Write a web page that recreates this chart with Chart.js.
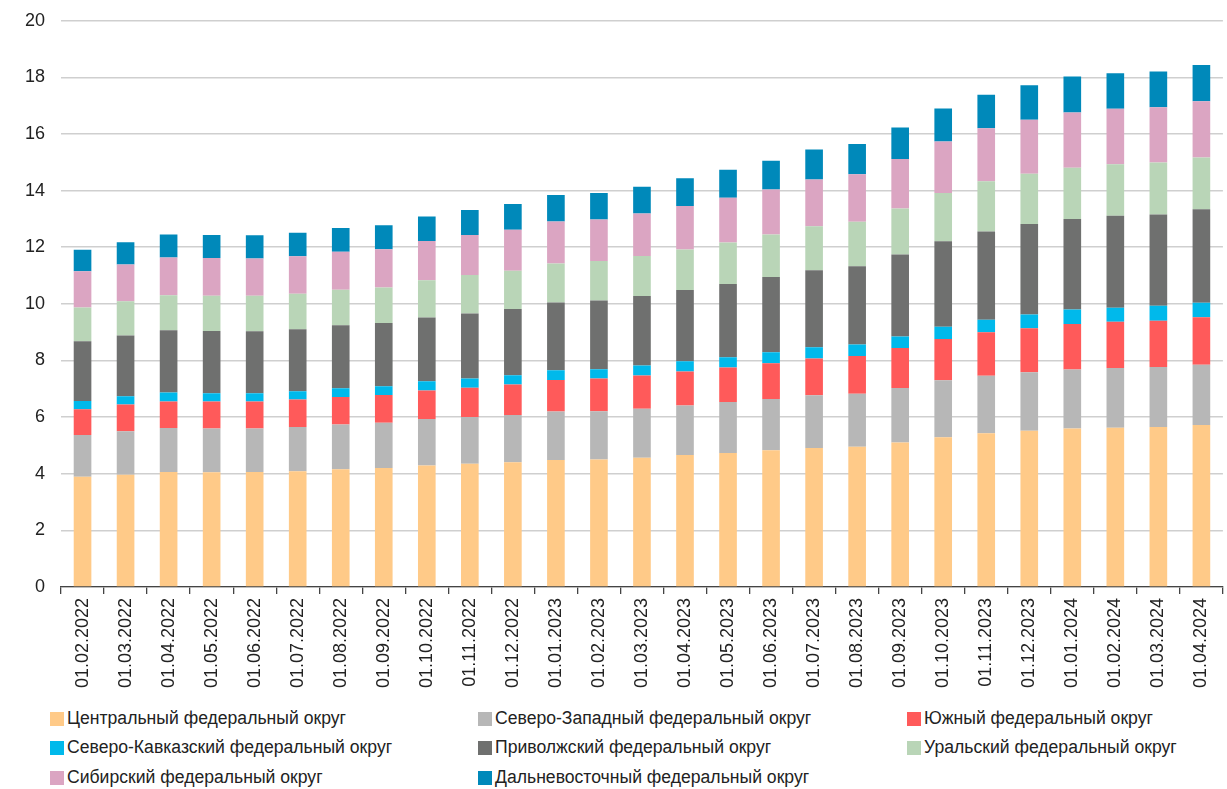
<!DOCTYPE html>
<html><head><meta charset="utf-8">
<script src="https://cdn.jsdelivr.net/npm/chart.js@4/dist/chart.umd.min.js"></script>
<style>
html,body{margin:0;padding:0;background:#fff;}
#wrap{position:relative;width:1227px;height:698px;margin-top:-6px;}
#legend{position:absolute;left:0;top:708px;width:1227px;font-family:"Liberation Sans",Arial,sans-serif;font-size:17.6px;color:#222;}
.li{position:absolute;display:flex;align-items:center;white-space:nowrap;}
.sw{width:14px;height:14px;margin-right:3px;}
</style></head><body>
<div id="wrap"><canvas id="c" width="1227" height="698"></canvas></div>
<div id="legend"></div>
<script>
const categories = ["01.02.2022","01.03.2022","01.04.2022","01.05.2022","01.06.2022","01.07.2022","01.08.2022","01.09.2022","01.10.2022","01.11.2022","01.12.2022","01.01.2023","01.02.2023","01.03.2023","01.04.2023","01.05.2023","01.06.2023","01.07.2023","01.08.2023","01.09.2023","01.10.2023","01.11.2023","01.12.2023","01.01.2024","01.02.2024","01.03.2024","01.04.2024"];
const central   = [3.89,3.96,4.06,4.05,4.06,4.09,4.16,4.20,4.29,4.35,4.40,4.48,4.50,4.56,4.66,4.73,4.83,4.91,4.95,5.10,5.29,5.43,5.52,5.60,5.62,5.65,5.72];
const northWest = [1.48,1.54,1.55,1.55,1.54,1.56,1.58,1.60,1.64,1.65,1.67,1.72,1.71,1.73,1.75,1.80,1.81,1.86,1.87,1.93,2.01,2.03,2.06,2.08,2.11,2.12,2.13];
const south     = [0.91,0.94,0.94,0.95,0.95,0.97,0.97,0.98,1.01,1.04,1.08,1.11,1.15,1.18,1.20,1.22,1.26,1.30,1.34,1.41,1.46,1.54,1.56,1.61,1.64,1.63,1.68];
const northCauc = [0.29,0.30,0.32,0.29,0.29,0.29,0.31,0.31,0.33,0.32,0.33,0.34,0.33,0.35,0.36,0.36,0.39,0.40,0.40,0.41,0.43,0.44,0.48,0.51,0.49,0.53,0.51];
const volga     = [2.11,2.14,2.20,2.20,2.19,2.19,2.22,2.23,2.25,2.30,2.34,2.40,2.43,2.46,2.52,2.59,2.66,2.72,2.77,2.89,3.02,3.12,3.20,3.20,3.25,3.23,3.30];
const ural      = [1.19,1.21,1.23,1.25,1.26,1.26,1.26,1.26,1.31,1.36,1.35,1.38,1.39,1.41,1.43,1.47,1.50,1.55,1.57,1.63,1.71,1.77,1.78,1.81,1.82,1.83,1.83];
const siberia   = [1.28,1.30,1.34,1.33,1.31,1.32,1.34,1.35,1.39,1.41,1.45,1.48,1.47,1.50,1.54,1.58,1.59,1.65,1.68,1.75,1.82,1.87,1.90,1.95,1.96,1.96,1.99];
const farEast   = [0.76,0.79,0.81,0.81,0.82,0.83,0.84,0.85,0.87,0.89,0.91,0.94,0.94,0.95,0.98,0.99,1.02,1.06,1.07,1.11,1.16,1.19,1.22,1.27,1.26,1.26,1.28];
const seriesNames = ["Центральный федеральный округ","Северо-Западный федеральный округ","Южный федеральный округ","Северо-Кавказский федеральный округ","Приволжский федеральный округ","Уральский федеральный округ","Сибирский федеральный округ","Дальневосточный федеральный округ"];
const yTicks = [0,2,4,6,8,10,12,14,16,18,20];

const colors = ["#FFCA88","#B7B7B7","#FF5A5A","#00B9EB","#6F706F","#B9D5B7","#DBA5C2","#0089BA"];
const seriesData = [central,northWest,south,northCauc,volga,ural,siberia,farEast];

const FONT = "'Liberation Sans', Arial, sans-serif";
new Chart(document.getElementById('c'), {
  type: 'bar',
  data: {
    labels: categories,
    datasets: seriesData.map((d,i)=>({label: seriesNames[i], data: d, backgroundColor: colors[i], borderWidth: 0, barPercentage: 0.41, categoryPercentage: 1}))
  },
  options: {
    responsive: false, animation: false,
    layout: {padding: {left: 9, right: 0, top: 2, bottom: 0}},
    plugins: {legend: {display: false}, tooltip: {enabled: false}},
    scales: {
      x: {
        stacked: true,
        grid: {display: true, drawOnChartArea: false, drawTicks: true, tickLength: 7, color: '#444', lineWidth: 1.3, offset: true},
        border: {display: true, color: '#444', width: 1.3},
        ticks: {minRotation: 90, maxRotation: 90, color: '#222', font: {family: FONT, size: 18}, padding: 4, autoSkip: false}
      },
      y: {
        stacked: true, min: 0, max: 20,
        afterBuildTicks: (ax) => { ax.ticks = yTicks.map(v => ({value: v})); },
        grid: {color: '#CFCFCF', lineWidth: 1.5, drawTicks: false},
        border: {display: false},
        ticks: {color: '#222', font: {family: FONT, size: 18}, padding: 16}
      }
    }
  }
});

const leg = document.getElementById('legend');
const colX = [50, 478, 907];
const rowY = [0, 29, 59];
seriesNames.forEach((n,i)=>{
  const r = Math.floor(i/3), c = i%3;
  const d = document.createElement('div');
  d.className = 'li';
  d.style.left = colX[c]+'px'; d.style.top = rowY[r]+'px';
  d.innerHTML = '<span class="sw" style="background:'+colors[i]+'"></span><span>'+n+'</span>';
  leg.appendChild(d);
});
</script>
</body></html>
